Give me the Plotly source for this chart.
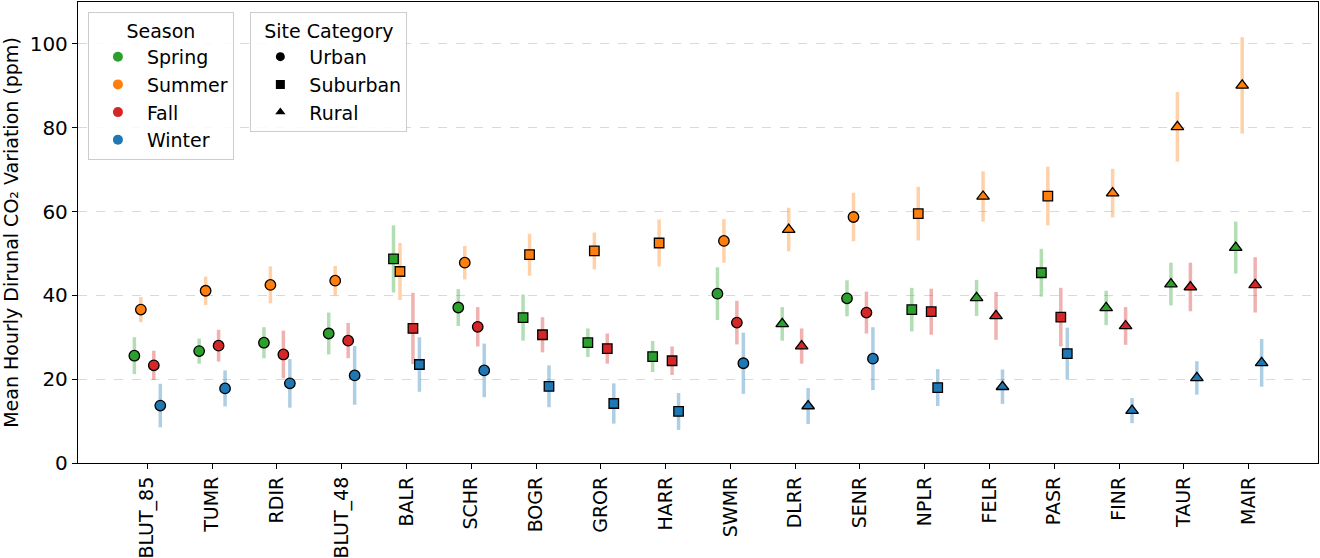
import plotly.graph_objects as go

sites = ["BLUT_85", "TUMR", "RDIR", "BLUT_48", "BALR", "SCHR", "BOGR", "GROR", "HARR",
         "SWMR", "DLRR", "SENR", "NPLR", "FELR", "PASR", "FINR", "TAUR", "MAIR"]
site_category = ["Urban", "Urban", "Urban", "Urban", "Suburban", "Urban", "Suburban", "Suburban", "Suburban",
                 "Urban", "Rural", "Urban", "Suburban", "Rural", "Suburban", "Rural", "Rural", "Rural"]

seasons = ["Spring", "Summer", "Fall", "Winter"]

spring_mean = [25.6, 26.7, 28.7, 30.9, 48.7, 37.1, 34.7, 28.7, 25.4, 40.4, 33.2, 39.3, 36.6, 39.4, 45.4, 37.0, 42.7, 51.4]
spring_err = [4.4, 3.0, 3.7, 5.0, 8.0, 4.4, 5.5, 3.4, 3.7, 6.3, 4.0, 4.3, 5.2, 4.3, 5.7, 4.1, 5.1, 6.2]
summer_mean = [36.6, 41.1, 42.5, 43.5, 45.7, 47.8, 49.7, 50.6, 52.5, 53.0, 55.7, 58.7, 59.5, 63.6, 63.7, 64.4, 80.2, 90.1]
summer_err = [3.0, 3.4, 4.4, 3.5, 6.8, 4.0, 5.0, 4.4, 5.6, 5.2, 5.2, 5.8, 6.4, 6.0, 7.0, 5.8, 8.3, 11.5]
fall_mean = [23.3, 28.0, 25.9, 29.2, 32.1, 32.5, 30.6, 27.3, 24.4, 33.5, 27.9, 35.9, 36.1, 35.1, 34.8, 32.7, 42.0, 42.5]
fall_err = [3.5, 3.8, 5.7, 4.2, 8.5, 4.7, 4.2, 3.6, 3.4, 5.2, 4.2, 5.0, 5.5, 5.7, 7.0, 4.5, 5.8, 6.6]
winter_mean = [13.7, 17.8, 19.0, 20.9, 23.5, 22.1, 18.3, 14.2, 12.3, 23.8, 13.6, 24.9, 18.0, 18.2, 26.1, 12.5, 20.3, 23.9]
winter_err = [5.2, 4.3, 5.8, 7.0, 6.5, 6.4, 5.0, 4.8, 4.4, 7.3, 4.3, 7.5, 4.4, 4.1, 6.2, 3.0, 4.0, 5.7]

season_means = [spring_mean, summer_mean, fall_mean, winter_mean]
season_errs = [spring_err, summer_err, fall_err, winter_err]
season_colors = ["#2ca02c", "#ff7f0e", "#d62728", "#1f77b4"]
season_err_colors = ["rgba(44,160,44,0.36)", "rgba(255,127,14,0.36)",
                     "rgba(214,39,40,0.36)", "rgba(31,119,180,0.36)"]
season_offsets = [-0.2, -0.1, 0.1, 0.2]

categories = ["Urban", "Suburban", "Rural"]
cat_symbols = {"Urban": "circle", "Suburban": "square", "Rural": "triangle-up"}
cat_sizes = {"Urban": 10.5, "Suburban": 9.5, "Rural": 11}

FONT = "DejaVu Sans"

fig = go.Figure()

# error bars first (below all markers)
for s, name in enumerate(seasons):
    xs = [i + season_offsets[s] for i in range(len(sites))]
    fig.add_trace(go.Scatter(
        x=xs, y=season_means[s], mode="markers",
        marker=dict(size=1, opacity=0),
        error_y=dict(type="data", array=season_errs[s], visible=True,
                     color=season_err_colors[s], thickness=3.5, width=0),
        showlegend=False, hoverinfo="skip",
    ))

# markers
for s, name in enumerate(seasons):
    xs = [i + season_offsets[s] for i in range(len(sites))]
    fig.add_trace(go.Scatter(
        x=xs, y=season_means[s], mode="markers",
        marker=dict(color=season_colors[s], opacity=1,
                    symbol=[cat_symbols[c] for c in site_category],
                    size=[cat_sizes[c] for c in site_category],
                    line=dict(color="black", width=1.3)),
        showlegend=False, hoverinfo="skip",
    ))

# Season legend
for s, name in enumerate(seasons):
    fig.add_trace(go.Scatter(
        x=[None], y=[None], mode="markers", name=name,
        marker=dict(color=season_colors[s], symbol="circle", size=10),
        legend="legend", showlegend=True,
    ))

# Site category legend
for c in categories:
    fig.add_trace(go.Scatter(
        x=[None], y=[None], mode="markers", name=c,
        marker=dict(color="black", symbol=cat_symbols[c], size=9),
        legend="legend2", showlegend=True,
    ))

leg_common = dict(
    xanchor="left", yanchor="top",
    bgcolor="rgba(255,255,255,0.85)", bordercolor="#cccccc", borderwidth=1,
    font=dict(size=19, family=FONT), itemwidth=48,
)

fig.update_layout(
    width=1320, height=558,
    margin=dict(l=78, r=2, t=2, b=95),
    paper_bgcolor="white", plot_bgcolor="white",
    font=dict(family=FONT, color="black", size=18),
    legend=dict(
        title=dict(text="Season", side="top center", font=dict(size=19, family=FONT)),
        x=0.008, y=0.978, **leg_common,
    ),
    legend2=dict(
        title=dict(text="Site Category", side="top center", font=dict(size=19, family=FONT)),
        x=0.139, y=0.978, **leg_common,
    ),
)

fig.update_xaxes(
    range=[-1.07, 18.07],
    tickmode="array", tickvals=list(range(len(sites))), ticktext=sites,
    tickangle=-90, tickfont=dict(size=19, family=FONT),
    ticks="outside", ticklen=5, tickcolor="black",
    showline=True, linecolor="black", linewidth=1.3, mirror=True,
    showgrid=False, zeroline=False, automargin=False,
)
fig.update_yaxes(
    range=[0, 110], tickvals=[0, 20, 40, 60, 80, 100],
    tickfont=dict(size=20, family=FONT),
    ticks="outside", ticklen=5, tickcolor="black",
    showline=True, linecolor="black", linewidth=1.3, mirror=True,
    showgrid=True, gridcolor="#d9d9d9", griddash="dash", gridwidth=1,
    zeroline=False, automargin=False,
    title=dict(text="Mean Hourly Dirunal CO₂ Variation (ppm)", font=dict(size=19, family=FONT), standoff=8),
)

fig.write_html("out.html", config={"displayModeBar": False},
               post_script="document.body.style.margin='0';")
